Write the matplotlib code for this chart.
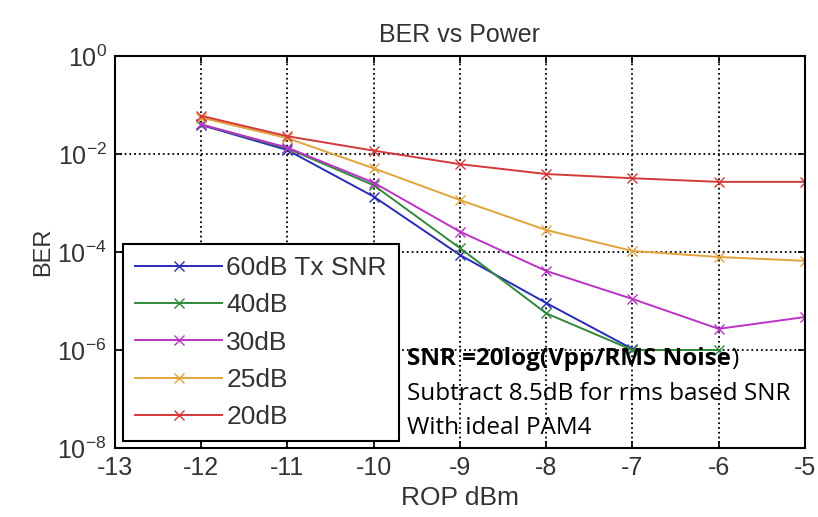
import matplotlib
matplotlib.use('Agg')
import matplotlib.pyplot as plt
import numpy as np

# ROP in dBm
rop = [-12, -11, -10, -9, -8, -7, -6, -5]

# BER readings for each Tx SNR
ber_60 = [0.039, 0.012, 0.00135, 8.7e-5, 9.1e-6, 1.05e-6]
ber_40 = [0.040, 0.013, 0.0023, 1.2e-4, 5.6e-6, 1.0e-6, 1.0e-6]
ber_30 = [0.040, 0.0135, 0.0026, 2.6e-4, 4.1e-5, 1.1e-5, 2.7e-6, 4.7e-6]
ber_25 = [0.055, 0.021, 0.0051, 0.00115, 2.8e-4, 1.05e-4, 7.9e-5, 6.6e-5]
ber_20 = [0.060, 0.023, 0.0117, 0.0062, 0.0039, 0.0032, 0.0027, 0.0027]

labels = ['60dB Tx SNR', '40dB', '30dB', '25dB', '20dB']
colors = ['#2a2ab8', '#2e8a3a', '#bb33c4', '#e0a43a', '#d43838']
series = [ber_60, ber_40, ber_30, ber_25, ber_20]

txt = '#333333'
plt.rcParams['font.family'] = ['Liberation Sans', 'DejaVu Sans']
plt.rcParams['axes.unicode_minus'] = False

fig = plt.figure(figsize=(8.18, 5.17), dpi=100)
ax = fig.add_axes([0.1406, 0.1335, 0.8434, 0.7582])

for vals, lab, col in zip(series, labels, colors):
    ax.semilogy(rop[:len(vals)], vals, color=col, marker='x', markersize=7,
                linewidth=1.4, label=lab)

ax.set_xlim(-13, -5)
ax.set_ylim(1e-8, 1e0)
ax.set_xticks(range(-13, -4))
ax.set_yticks([1e-8, 1e-6, 1e-4, 1e-2, 1e0])
ax.yaxis.set_minor_locator(matplotlib.ticker.NullLocator())
ax.tick_params(direction='in', top=True, right=True, length=5, width=1.2,
               labelsize=18, colors='black', labelcolor=txt, pad=6)
ax.grid(True, linestyle=':', color='black', linewidth=1.3)
for sp in ax.spines.values():
    sp.set_linewidth(1.5)

ax.set_title('BER vs Power', fontsize=18, color=txt, pad=10)
ax.set_xlabel('ROP dBm', fontsize=19, color=txt, labelpad=4)
ax.set_ylabel('BER', fontsize=17, color=txt, labelpad=2)

leg = ax.legend(loc='lower left', fontsize=19, fancybox=False, framealpha=1,
                edgecolor='black', bbox_to_anchor=(0.012, 0.018),
                borderaxespad=0, handlelength=3.3,
                labelspacing=0.5, borderpad=0.45, handletextpad=0.15)
leg.get_frame().set_linewidth(1.5)
for t in leg.get_texts():
    t.set_color(txt)

# annotation, bold formula with a plain closing bracket
tx = 0.423
bold = ax.text(tx, 0.212, 'SNR =20log(Vpp/RMS Noise', transform=ax.transAxes,
               fontsize=17.5, fontweight='bold', family='Open Sans',
               va='baseline', ha='left')
ax.annotate(')', xy=(1, 0), xycoords=bold, fontsize=17.5, family='Open Sans',
            va='bottom', ha='left')
ax.text(tx, 0.138, 'Subtract 8.5dB for rms based SNR', transform=ax.transAxes,
        fontsize=17.5, family='Open Sans', va='center', ha='left')
ax.text(tx, 0.052, 'With ideal PAM4', transform=ax.transAxes,
        fontsize=17.5, family='Open Sans', va='center', ha='left')

fig.savefig('out.png', dpi=100)
